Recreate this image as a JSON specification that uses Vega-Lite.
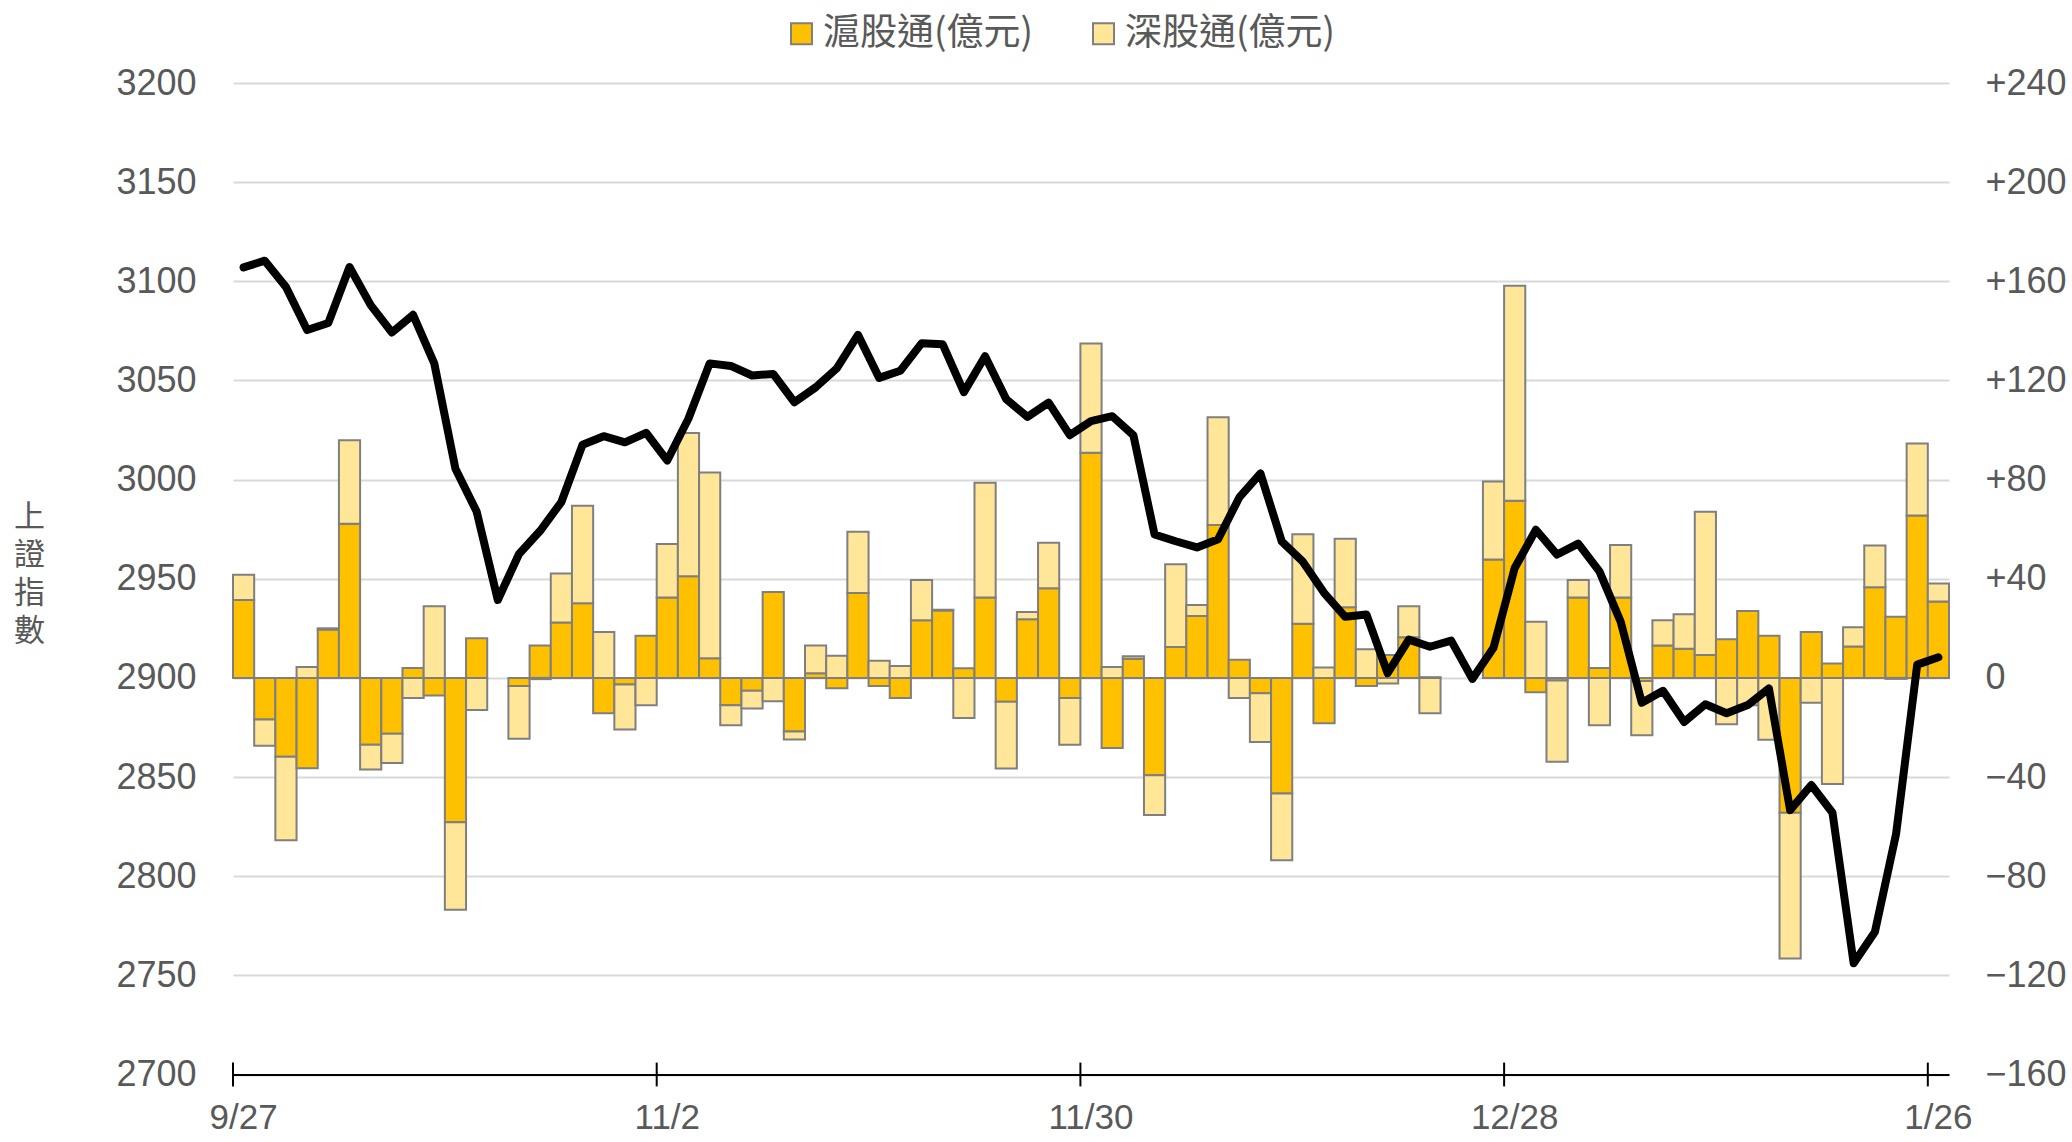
{
  "$schema": "https://vega.github.io/schema/vega-lite/v6.json",
  "autosize": {"type": "none"},
  "width": 1716,
  "height": 991.5,
  "padding": {"left": 233, "top": 83, "right": 123, "bottom": 67.5},
  "background": "#ffffff",
  "config": {
    "view": {"stroke": null},
    "axis": {"labelFont": "Liberation Sans", "labelColor": "#595959", "titleColor": "#595959"}
  },
  "data": {"values": [
    {"i":0,"d":"9/27","sh":31.4,"sz":10.2,"idx":3107},
    {"i":1,"d":"9/28","sh":-16.8,"sz":-10.6,"idx":3110.4},
    {"i":2,"d":"10/9","sh":-31.8,"sz":-33.7,"idx":3097.1},
    {"i":3,"d":"10/10","sh":-36.4,"sz":4.4,"idx":3075.4},
    {"i":4,"d":"10/11","sh":19.5,"sz":0.5,"idx":3079},
    {"i":5,"d":"10/12","sh":62.2,"sz":33.7,"idx":3107.2},
    {"i":6,"d":"10/13","sh":-27,"sz":-10,"idx":3088},
    {"i":7,"d":"10/16","sh":-22.5,"sz":-11.8,"idx":3074.2},
    {"i":8,"d":"10/17","sh":4,"sz":-8.1,"idx":3083.1},
    {"i":9,"d":"10/18","sh":-7.1,"sz":28.9,"idx":3058.6},
    {"i":10,"d":"10/19","sh":-58.2,"sz":-35.3,"idx":3005.5},
    {"i":11,"d":"10/20","sh":16,"sz":-12.9,"idx":2983.9},
    {"i":12,"d":"10/23","sh":null,"sz":null,"idx":2939.3},
    {"i":13,"d":"10/24","sh":-3.3,"sz":-21.2,"idx":2962.5},
    {"i":14,"d":"10/25","sh":13.1,"sz":-0.5,"idx":2974.2},
    {"i":15,"d":"10/26","sh":22.4,"sz":19.7,"idx":2988.7},
    {"i":16,"d":"10/27","sh":30.1,"sz":39.3,"idx":3017.6},
    {"i":17,"d":"10/30","sh":-14.3,"sz":18.5,"idx":3021.9},
    {"i":18,"d":"10/31","sh":-2.7,"sz":-18.1,"idx":3018.8},
    {"i":19,"d":"11/1","sh":17,"sz":-11,"idx":3023.6},
    {"i":20,"d":"11/2","sh":32.4,"sz":21.6,"idx":3009.6},
    {"i":21,"d":"11/3","sh":41,"sz":57.8,"idx":3030.8},
    {"i":22,"d":"11/6","sh":7.9,"sz":75,"idx":3058.6},
    {"i":23,"d":"11/7","sh":-11,"sz":-8.1,"idx":3057.3},
    {"i":24,"d":"11/8","sh":-5.2,"sz":-7.1,"idx":3052.5},
    {"i":25,"d":"11/9","sh":34.7,"sz":-9.4,"idx":3053.3},
    {"i":26,"d":"11/10","sh":-21.6,"sz":-3.3,"idx":3039},
    {"i":27,"d":"11/13","sh":1.9,"sz":11.2,"idx":3046.5},
    {"i":28,"d":"11/14","sh":-4.2,"sz":8.9,"idx":3056.1},
    {"i":29,"d":"11/15","sh":34.3,"sz":24.7,"idx":3073},
    {"i":30,"d":"11/16","sh":-3.3,"sz":6.9,"idx":3051.3},
    {"i":31,"d":"11/17","sh":-8.1,"sz":4.8,"idx":3054.9},
    {"i":32,"d":"11/20","sh":23.3,"sz":16.2,"idx":3068.7},
    {"i":33,"d":"11/21","sh":27.2,"sz":0.3,"idx":3068.2},
    {"i":34,"d":"11/22","sh":3.9,"sz":-16.2,"idx":3044.1},
    {"i":35,"d":"11/23","sh":32.4,"sz":46.3,"idx":3062.2},
    {"i":36,"d":"11/24","sh":-9.6,"sz":-27,"idx":3040.5},
    {"i":37,"d":"11/27","sh":23.7,"sz":2.9,"idx":3031.6},
    {"i":38,"d":"11/28","sh":36.2,"sz":18.3,"idx":3038.8},
    {"i":39,"d":"11/29","sh":-8.1,"sz":-18.9,"idx":3022.4},
    {"i":40,"d":"11/30","sh":90.8,"sz":44.1,"idx":3029.5},
    {"i":41,"d":"12/1","sh":-28.3,"sz":4.4,"idx":3032},
    {"i":42,"d":"12/4","sh":7.7,"sz":1,"idx":3022.4},
    {"i":43,"d":"12/5","sh":-39.3,"sz":-16,"idx":2972.3},
    {"i":44,"d":"12/6","sh":12.5,"sz":33.3,"idx":2968.9},
    {"i":45,"d":"12/7","sh":25,"sz":4.4,"idx":2965.8},
    {"i":46,"d":"12/8","sh":61.7,"sz":43.5,"idx":2969.9},
    {"i":47,"d":"12/11","sh":7.3,"sz":-8.1,"idx":2991},
    {"i":48,"d":"12/12","sh":-6.2,"sz":-19.7,"idx":3003.1},
    {"i":49,"d":"12/13","sh":-46.6,"sz":-27,"idx":2968.9},
    {"i":50,"d":"12/14","sh":21.8,"sz":36.2,"idx":2958.6},
    {"i":51,"d":"12/15","sh":-18.3,"sz":4.2,"idx":2942.9},
    {"i":52,"d":"12/18","sh":28.5,"sz":27.6,"idx":2930.8},
    {"i":53,"d":"12/19","sh":-3.3,"sz":11.6,"idx":2932},
    {"i":54,"d":"12/20","sh":9.2,"sz":-2.3,"idx":2902.4},
    {"i":55,"d":"12/21","sh":16.4,"sz":12.5,"idx":2919.3},
    {"i":56,"d":"12/22","sh":0.3,"sz":-14.3,"idx":2915.7},
    {"i":57,"d":"12/25","sh":null,"sz":null,"idx":2918.8},
    {"i":58,"d":"12/26","sh":null,"sz":null,"idx":2899.5},
    {"i":59,"d":"12/27","sh":47.8,"sz":31.4,"idx":2915.2},
    {"i":60,"d":"12/28","sh":71.5,"sz":86.7,"idx":2955.4},
    {"i":61,"d":"12/29","sh":-5.8,"sz":22.7,"idx":2974.7},
    {"i":62,"d":"1/2","sh":-1,"sz":-32.8,"idx":2962.2},
    {"i":63,"d":"1/3","sh":32.4,"sz":7.1,"idx":2967.7},
    {"i":64,"d":"1/4","sh":4,"sz":-19.1,"idx":2953.7},
    {"i":65,"d":"1/5","sh":32.4,"sz":21.2,"idx":2928.4},
    {"i":66,"d":"1/8","sh":-1.3,"sz":-21.8,"idx":2887.5},
    {"i":67,"d":"1/9","sh":13.1,"sz":10.2,"idx":2893.5},
    {"i":68,"d":"1/10","sh":11.8,"sz":13.9,"idx":2877.8},
    {"i":69,"d":"1/11","sh":9.2,"sz":57.8,"idx":2886.7},
    {"i":70,"d":"1/12","sh":15.6,"sz":-18.7,"idx":2882.2},
    {"i":71,"d":"1/15","sh":27,"sz":-11,"idx":2886.3},
    {"i":72,"d":"1/16","sh":17,"sz":-25,"idx":2894.7},
    {"i":73,"d":"1/17","sh":-54.4,"sz":-58.8,"idx":2833.3},
    {"i":74,"d":"1/18","sh":18.5,"sz":-10,"idx":2846},
    {"i":75,"d":"1/19","sh":5.8,"sz":-42.8,"idx":2832},
    {"i":76,"d":"1/22","sh":12.7,"sz":7.7,"idx":2756.1},
    {"i":77,"d":"1/23","sh":36.6,"sz":16.8,"idx":2771.8},
    {"i":78,"d":"1/24","sh":24.7,"sz":-0.4,"idx":2821.2},
    {"i":79,"d":"1/25","sh":65.5,"sz":29.1,"idx":2906.7},
    {"i":80,"d":"1/26","sh":30.8,"sz":7.3,"idx":2910.4}
  ]},
  "encoding": {
    "x": {
      "field": "d", "type": "ordinal",
      "sort": {"field": "i", "op": "min"},
      "scale": {"paddingInner": 0, "paddingOuter": 0},
      "axis": {
        "title": null,
        "labelExpr": "indexof(['9/27','11/2','11/30','12/28','1/26'], datum.value) >= 0 ? datum.label : ''",
        "labelOffset": 0,
        "labelAngle": 0,
        "labelAlign": "center",
        "labelFont": "Liberation Sans",
        "labelFontSize": 35,
        "labelPadding": 26,
        "labelOverlap": false,
        "labelFlush": false,
        "labelBound": false,
        "domainColor": "#000000",
        "domainWidth": 2,
        "ticks": false,
        "grid": false
      }
    }
  },
  "layer": [
    {
      "transform": [
        {"fold": ["sh", "sz"], "as": ["series", "value"]},
        {"filter": "isValid(datum.value)"}
      ],
      "mark": {"type": "bar", "stroke": "#7F7F7F", "strokeWidth": 2, "width": {"band": 1}},
      "encoding": {
        "y": {
          "field": "value", "type": "quantitative", "stack": "zero",
          "scale": {"domain": [-160, 240], "nice": false, "zero": false},
          "axis": {
            "orient": "right",
            "title": null,
            "values": [-160, -120, -80, -40, 0, 40, 80, 120, 160, 200, 240],
            "labelExpr": "datum.value > 0 ? '+' + datum.label : datum.label",
            "labelFontSize": 36,
            "labelPadding": 36,
            "ticks": false,
            "domain": false,
            "grid": false
          }
        },
        "color": {
          "field": "series", "type": "nominal",
          "scale": {"domain": ["sh", "sz"], "range": ["#FFC000", "#FFE699"]},
          "legend": {
            "orient": "none",
            "legendX": 550,
            "legendY": -68,
            "direction": "horizontal",
            "title": null,
            "labelExpr": "datum.value == 'sh' ? '滬股通(億元)' : '深股通(億元)'",
            "labelFont": "Noto Sans CJK TC",
            "labelFontSize": 37,
            "labelLimit": 0,
            "labelColor": "#595959",
            "symbolType": "square",
            "symbolSize": 441,
            "symbolStrokeColor": "#7F7F7F",
            "symbolStrokeWidth": 2,
            "symbolOpacity": 1,
            "labelOffset": 3,
            "columnPadding": 51
          }
        },
        "order": {"field": "series", "sort": "ascending"}
      }
    },
    {
      "mark": {"type": "line", "color": "#000000", "strokeWidth": 8, "strokeJoin": "round", "strokeCap": "round"},
      "encoding": {
        "y": {
          "field": "idx", "type": "quantitative",
          "scale": {"domain": [2700, 3200], "nice": false, "zero": false},
          "axis": {
            "orient": "left",
            "format": "d",
            "title": ["上", "證", "指", "數"],
            "titleAngle": 0,
            "titleFont": "Noto Sans CJK TC",
            "titleFontSize": 31,
            "titleFontWeight": "normal",
            "titleLineHeight": 38,
            "titleAlign": "center",
            "titleBaseline": "middle",
            "titleX": -204,
            "titleY": 434,
            "values": [2700, 2750, 2800, 2850, 2900, 2950, 3000, 3050, 3100, 3150, 3200],
            "labelFontSize": 36,
            "labelPadding": 37,
            "ticks": false,
            "domain": false,
            "grid": true,
            "gridColor": "#D9D9D9",
            "gridWidth": 2
          }
        }
      }
    },
    {
      "transform": [
        {"filter": "indexof(['9/27','11/2','11/30','12/28','1/26'], datum.d) >= 0"}
      ],
      "mark": {"type": "rule", "color": "#000000", "strokeWidth": 2},
      "encoding": {
        "x": {"field": "d", "type": "ordinal", "sort": {"field": "i", "op": "min"}, "bandPosition": 0},
        "y": {"datum": 2694, "type": "quantitative", "scale": {"domain": [2700, 3200], "nice": false, "zero": false}, "axis": null},
        "y2": {"datum": 2706}
      }
    }
  ],
  "resolve": {"scale": {"y": "independent"}}
}
